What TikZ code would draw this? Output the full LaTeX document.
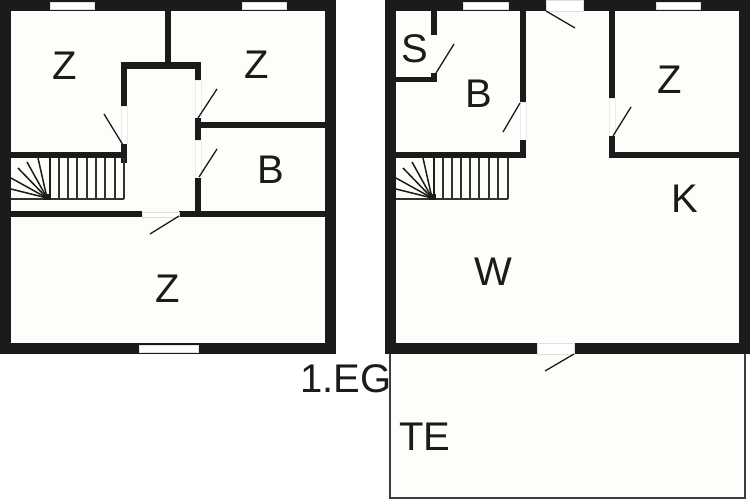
\documentclass[tikz,border=0pt]{standalone}
\usepackage{fontspec}
\setmainfont{Liberation Sans}
\definecolor{wallc}{HTML}{1C1A1A}
\definecolor{roomc}{HTML}{FEFDFA}
\tikzset{
  x=1pt,y=-1pt,
  wall/.style={fill=wallc,draw=none},
  opening/.style={fill=white,draw=black!12,line width=.5pt},
  inneropening/.style={fill=white,draw=black!8,line width=.5pt},
  leaf/.style={draw=wallc,line width=1.3pt},
  stairline/.style={draw=wallc!90,line width=1.2pt},
  stairthick/.style={draw=wallc,line width=1.8pt},
  room/.style={font=\fontsize{40}{40}\selectfont,text=wallc,inner sep=0pt},
}
\begin{document}
\begin{tikzpicture}
\useasboundingbox (0,0) rectangle (750,500);
\fill[white] (0,0) rectangle (750,500);
% terrace
\draw[fill=roomc,draw=wallc!85,line width=1.8pt] (390,350) rectangle (745,498);
% left plan
\fill[wall] (0,0) rectangle (336,354);
\fill[roomc] (11,11) rectangle (325,343);
\foreach \a/\b/\c/\d in {121/106/127/144, 195/80/201/118, 195/140/201/178}
  \draw[inneropening] (\a,\b) rectangle (\c,\d);
\foreach \a/\b/\c/\d in {165/11/171/65, 121/62/201/69, 121/62/127/106, 121/144/127/163, 11/152/127/158,
  195/62/201/80, 195/118/201/140, 201/122/325/128, 195/178/201/217, 11/211/142/217, 179/211/325/217}
  \fill[wall] (\a,\b) rectangle (\c,\d);
\foreach \a/\b/\c/\d in {50/2/94/9, 242/2/286/9, 139/345/198/352, 142/212/179/217}
  \draw[opening] (\a,\b) rectangle (\c,\d);
\foreach \a/\b/\c/\d in {198/118/217/89, 123/145/104/114, 199/177/217/149, 179/216/150/234}
  \draw[leaf] (\a,\b) -- (\c,\d);
% left stairs
\draw[stairline] (11,199) -- (124,199);
\foreach \x in {59,68,77,87,96,105,115,124} \draw[stairline] (\x,158) -- (\x,199);
\draw[stairthick] (50,158) -- (50,199);
\foreach \x/\y in {38/158,27/162,18/168,11/178,11/189} \draw[stairthick,line width=1.5pt] (47,198) -- (\x,\y);
\fill[wall] (44,194) rectangle (51,200);
% right plan
\fill[wall] (385,0) rectangle (750,354);
\fill[roomc] (396,11) rectangle (739,343);
\foreach \a/\b/\c/\d in {520/102/526/140, 609/98/615/136}
  \draw[inneropening] (\a,\b) rectangle (\c,\d);
\foreach \a/\b/\c/\d in {431/11/437/35, 396/77/437/82, 431/73/437/82, 520/11/526/102, 520/140/526/158,
  396/152/526/158, 609/11/615/98, 609/136/615/158, 609/152/739/158}
  \fill[wall] (\a,\b) rectangle (\c,\d);
\foreach \a/\b/\c/\d in {463/2/508/9, 656/2/700/9, 546/0/583/11, 537/343/574/354}
  \draw[opening] (\a,\b) rectangle (\c,\d);
\foreach \a/\b/\c/\d in {546/11/575/28, 436/73/454/44, 520/103/503/132, 613/136/631/107, 574/354/545/371}
  \draw[leaf] (\a,\b) -- (\c,\d);
% right stairs
\draw[stairline] (396,199) -- (508,199);
\foreach \x in {443,452,461,470,479,489,498,508} \draw[stairline] (\x,158) -- (\x,199);
\draw[stairthick] (434,158) -- (434,199);
\foreach \x/\y in {423/158,412/162,403/168,396/178,396/189} \draw[stairthick,line width=1.5pt] (432,198) -- (\x,\y);
\fill[wall] (429,194) rectangle (436,200);
% labels
\node[room] (z1) at (65,66) {Z};
\node[room] (z2) at (257,65) {Z};
\node[room] (b1) at (271,170) {B};
\node[room] (z3) at (168,289) {Z};
\node[room] (s1) at (415,49) {S};
\node[room] (b2) at (479,94) {B};
\node[room] (z4) at (670,80) {Z};
\node[room] (k1) at (685,199) {K};
\node[room] (w1) at (493,272) {W};
\node[room] (eg) at (346,379) {1.EG};
\node[room] (te) at (425,437) {TE};
\end{tikzpicture}
\end{document}
